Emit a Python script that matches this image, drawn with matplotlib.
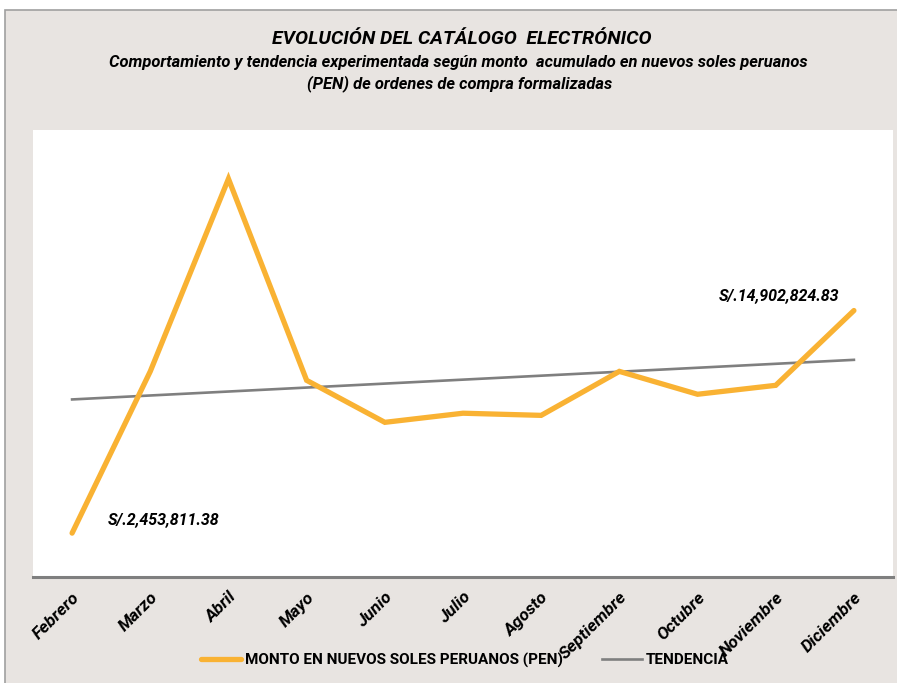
import matplotlib.pyplot as plt
from matplotlib.patches import Rectangle
import numpy as np

# Datos (monto acumulado en PEN por mes)
meses = ["Febrero", "Marzo", "Abril", "Mayo", "Junio", "Julio", "Agosto",
         "Septiembre", "Octubre", "Noviembre", "Diciembre"]
montos = [2453811.38, 11500000, 22270000, 11000000, 8650000, 9160000,
          9040000, 11500000, 10220000, 10720000, 14902824.83]

ORANGE = "#F9B233"
GRAY = "#7F7F7F"
BG = "#E8E4E1"
FONT = "Roboto"

W, H = 897, 683
fig = plt.figure(figsize=(W / 100, H / 100), dpi=100)
fig.patch.set_facecolor("white")

# marco exterior beige con borde gris
fig.patches.append(Rectangle((5 / W, -0.01), 1.0, 1 - 10 / H + 0.01,
                             transform=fig.transFigure, facecolor=BG,
                             edgecolor="#A0A0A0", linewidth=1.2, zorder=-10))

ax = fig.add_axes([33 / W, (H - 577) / H, 860 / W, 447 / H])
ax.set_facecolor("white")
ax.set_zorder(1)

x = np.arange(len(meses))
y = np.array(montos)
ax.plot(x, y, color=ORANGE, linewidth=3.8, solid_capstyle="round",
        solid_joinstyle="miter", label="MONTO EN NUEVOS SOLES PERUANOS (PEN)", zorder=3)

# linea de tendencia lineal
m, b = np.polyfit(x, y, 1)
ax.plot(x, m * x + b, color=GRAY, linewidth=1.9, label="TENDENCIA", zorder=2)

ax.set_xlim(-0.5, len(meses) - 0.5)
ax.set_ylim(0, 25_000_000)
ax.yaxis.set_visible(False)
for s in ["top", "right", "left"]:
    ax.spines[s].set_visible(False)
ax.spines["bottom"].set_color(GRAY)
ax.spines["bottom"].set_linewidth(2.2)

ax.set_xticks(x)
ax.set_xticklabels(meses, rotation=45, ha="right", rotation_mode="anchor",
                   fontsize=12.5, fontstyle="italic", fontweight="bold",
                   family=FONT)
ax.tick_params(axis="x", length=0, pad=9)

# etiquetas de datos en extremos
ax.annotate(f"S/.{montos[0]:,.2f}", (x[0], y[0]), xytext=(26, 9.5),
            textcoords="offset points", ha="left", va="center",
            fontsize=11.5, fontstyle="italic", fontweight="bold", family=FONT)
ax.annotate(f"S/.{montos[-1]:,.2f}", (x[-1], y[-1]), xytext=(-54, 11),
            textcoords="offset points", ha="center", va="center",
            fontsize=11.5, fontstyle="italic", fontweight="bold", family=FONT)

fig.text(462 / W, 1 - 39 / H, "EVOLUCIÓN DEL CATÁLOGO  ELECTRÓNICO",
         ha="center", va="center", fontsize=14, fontstyle="italic",
         fontweight="bold", family=FONT)
fig.text(458 / W, 1 - 62 / H,
         "Comportamiento y tendencia experimentada según monto  acumulado en nuevos soles peruanos",
         ha="center", va="center", fontsize=11.9, fontstyle="italic",
         fontweight="bold", family=FONT)
fig.text(460 / W, 1 - 84 / H, "(PEN) de ordenes de compra formalizadas",
         ha="center", va="center", fontsize=11.9, fontstyle="italic",
         fontweight="bold", family=FONT)

leg = fig.legend(loc="center", bbox_to_anchor=(465 / W, 1 - 660 / H), ncol=2,
                 frameon=False, handlelength=2.6, handletextpad=0.25,
                 columnspacing=2.6,
                 prop={"family": FONT, "weight": "bold", "size": 11})

fig.savefig("out.png", dpi=100, facecolor=fig.get_facecolor())
